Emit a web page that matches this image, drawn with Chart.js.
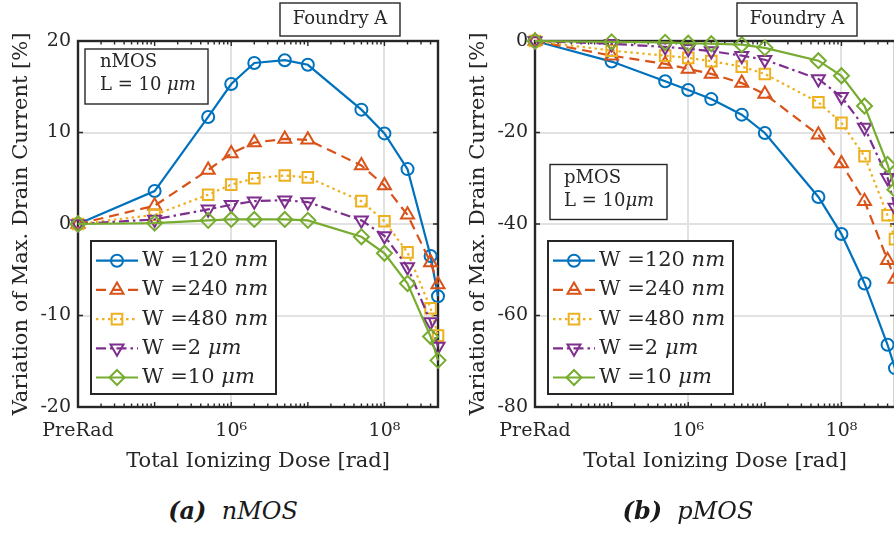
<!DOCTYPE html>
<html>
<head>
<meta charset="utf-8">
<script src="https://cdn.jsdelivr.net/npm/chart.js@4.4.0/dist/chart.umd.min.js"></script>
<style>
  html, body { margin: 0; padding: 0; background: #fff; overflow: hidden; width: 894px; height: 533px; }
  .panel { position: absolute; top: 0; width: 460px; height: 480px; }
  .caption { position: absolute; top: 496px; width: 460px; text-align: center; line-height: 28px;
             font: italic 24px 'DejaVu Serif', serif; color: #1a1a1a; }
  .caption b { font-weight: bold; }
</style>
</head>
<body>
<div class="panel" style="left:0"><canvas id="nmosChart"></canvas></div>
<div class="panel" style="left:457px"><canvas id="pmosChart"></canvas></div>
<div class="caption" style="left:3px"><b>(a)</b>&nbsp; nMOS</div>
<div class="caption" style="left:458px"><b>(b)</b>&nbsp; pMOS</div>
<script>
// Dose steps in rad; the PreRad measurement sits at 1e4
const doseRad = [1e4, 1e5, 5e5, 1e6, 2e6, 5e6, 1e7, 5e7, 1e8, 2e8, 4e8, 5e8];
const doseTicks = [1e4, 1e6, 1e8];
const doseTickLabels = ['PreRad', '10\u2076', '10\u2078'];

// Transistor widths: plain part + italic unit
const widthNames = [['W =120 ', 'nm'], ['W =240 ', 'nm'], ['W =480 ', 'nm'], ['W =2 ', '\u03bcm'], ['W =10 ', '\u03bcm']];

// nMOS, L = 10 um : variation of max. drain current [%]
const nmos120 = [0, 3.6, 11.7, 15.3, 17.6, 17.9, 17.4, 12.5, 9.9, 6.0, -3.5, -7.9];
const nmos240 = [0, 2.0, 5.9, 7.7, 8.9, 9.3, 9.2, 6.4, 4.2, 1.0, -4.2, -6.6];
const nmos480 = [0, 1.0, 3.2, 4.3, 5.0, 5.3, 5.1, 2.5, 0.3, -3.1, -9.2, -12.2];
const nmos2u  = [0, 0.5, 1.6, 2.1, 2.5, 2.6, 2.4, 0.4, -1.3, -4.7, -10.7, -13.4];
const nmos10u = [0, 0.1, 0.4, 0.5, 0.5, 0.5, 0.4, -1.4, -3.2, -6.5, -12.3, -14.9];

// pMOS, L = 10 um
const pmos120 = [0, -4.5, -8.8, -10.7, -12.7, -16.1, -20.1, -34.1, -42.2, -53.0, -66.4, -71.5];
const pmos240 = [0, -3.2, -5.0, -6.1, -7.2, -9.2, -11.6, -20.5, -26.8, -35.0, -47.9, -52.0];
const pmos480 = [0, -2.1, -3.2, -3.7, -4.4, -5.6, -7.2, -13.4, -17.9, -25.2, -38.1, -43.3];
const pmos2u  = [0, -0.6, -1.3, -1.7, -2.2, -3.2, -4.1, -8.3, -12.2, -18.9, -29.9, -36.4];
const pmos10u = [0, -0.2, -0.3, -0.5, -0.6, -0.8, -1.5, -4.3, -7.6, -14.2, -27.0, -32.5];

const ink = '#262626';
const serif = "'DejaVu Serif', serif";

// MATLAB default colour order and line/marker styles
const styles = [
  { color: '#0072BD', dash: [],              point: 'circle',   radius: 6,   rot: 0 },
  { color: '#D95319', dash: [10, 6],         point: 'triangle', radius: 7.5, rot: 0 },
  { color: '#EDB120', dash: [2.5, 3.5],      point: 'rect',     radius: 7.5, rot: 0 },
  { color: '#7E2F8E', dash: [10, 4, 2.5, 4], point: 'triangle', radius: 7.5, rot: 180 },
  { color: '#77AC30', dash: [],              point: 'rectRot',  radius: 7.5, rot: 0 },
];

function makeDatasets(seriesList) {
  return seriesList.map((values, i) => {
    const s = styles[i];
    return {
      label: widthNames[i].join(''),
      data: doseRad.map((x, j) => ({ x: x, y: values[j] })),
      showLine: true,
      borderColor: s.color,
      borderWidth: 2.2,
      borderDash: s.dash,
      pointStyle: s.point,
      pointRadius: s.radius,
      pointRotation: s.rot,
      pointBorderColor: s.color,
      pointBackgroundColor: 'rgba(0,0,0,0)',
      pointBorderWidth: 2,
      order: seriesList.length - i,   // later series on top
      clip: false
    };
  });
}

// text with mixed upright / italic runs
function richText(ctx, parts, x, y, size, align) {
  const fonts = parts.map(p => (p[1] ? 'italic ' : '') + size + 'px ' + serif);
  let total = 0;
  parts.forEach((p, k) => { ctx.font = fonts[k]; total += ctx.measureText(p[0]).width; });
  let cx = align === 'center' ? x - total / 2 : x;
  ctx.textAlign = 'left';
  ctx.textBaseline = 'middle';
  ctx.fillStyle = ink;
  parts.forEach((p, k) => {
    ctx.font = fonts[k];
    ctx.fillText(p[0], cx, y);
    cx += ctx.measureText(p[0]).width;
  });
}

function marker(ctx, s, x, y) {
  const r = s.radius;
  ctx.beginPath();
  if (s.point === 'circle') {
    ctx.arc(x, y, r, 0, Math.PI * 2);
  } else if (s.point === 'rect') {
    const h = r * Math.SQRT1_2;
    ctx.rect(x - h, y - h, 2 * h, 2 * h);
  } else if (s.point === 'rectRot') {
    ctx.moveTo(x - r, y); ctx.lineTo(x, y - r); ctx.lineTo(x + r, y); ctx.lineTo(x, y + r); ctx.closePath();
  } else {
    let a = s.rot * Math.PI / 180;
    ctx.moveTo(x + Math.sin(a) * r, y - Math.cos(a) * r);
    for (let k = 0; k < 2; k++) {
      a += Math.PI * 2 / 3;
      ctx.lineTo(x + Math.sin(a) * r, y - Math.cos(a) * r);
    }
    ctx.closePath();
  }
  ctx.stroke();
}

function textBox(ctx, b, lw) {
  ctx.fillStyle = '#fff';
  ctx.fillRect(b.x, b.y, b.w, b.h);
  ctx.strokeStyle = ink;
  ctx.lineWidth = lw;
  ctx.strokeRect(b.x, b.y, b.w, b.h);
  b.lines.forEach(l => richText(ctx, l.parts, l.x, l.y, b.size, l.align));
}

// MATLAB-like box: inward ticks, log minor ticks, legend and annotations
const matlabAxes = {
  id: 'matlabAxes',
  beforeDatasetsDraw(chart) {
    const { ctx, chartArea: a } = chart;
    const x = chart.scales.x, y = chart.scales.y;
    ctx.save();
    ctx.strokeStyle = ink;
    ctx.lineWidth = 1.4;
    ctx.beginPath();
    const lo = Math.floor(Math.log10(x.min)), hi = Math.ceil(Math.log10(x.max));
    for (let e = lo; e <= hi; e++) {
      for (let m = 1; m < 10; m++) {
        const v = m * Math.pow(10, e);
        if (v < x.min || v > x.max) continue;
        const px = x.getPixelForValue(v), len = m === 1 ? 5 : 3.5;
        ctx.moveTo(px, a.bottom); ctx.lineTo(px, a.bottom - len);
        ctx.moveTo(px, a.top); ctx.lineTo(px, a.top + len);
      }
    }
    y.ticks.forEach(t => {
      const py = y.getPixelForValue(t.value);
      ctx.moveTo(a.left, py); ctx.lineTo(a.left + 5, py);
      ctx.moveTo(a.right, py); ctx.lineTo(a.right - 5, py);
    });
    ctx.stroke();
    ctx.lineWidth = 2.4;
    ctx.strokeRect(a.left, a.top, a.width, a.height);
    ctx.restore();
  },
  afterDraw(chart, args, opts) {
    const { ctx, chartArea: a } = chart;
    ctx.save();
    // title box above the axes
    textBox(ctx, { x: 280, y: 3, w: 120, h: 33, size: 18,
      lines: [{ parts: [['Foundry A']], x: 340, y: 19.5, align: 'center' }] }, 1.4);
    textBox(ctx, opts.info, 1.4);

    // legend
    const lx = a.left + 13, ly = 241, lw = 185, lh = 153;
    ctx.fillStyle = '#fff';
    ctx.fillRect(lx, ly, lw, lh);
    ctx.strokeStyle = ink;
    ctx.lineWidth = 2;
    ctx.strokeRect(lx, ly, lw, lh);
    styles.forEach((s, i) => {
      const cy = ly + 19.7 + i * 29.2;
      ctx.strokeStyle = s.color;
      ctx.lineWidth = 2.2;
      ctx.setLineDash(s.dash);
      ctx.beginPath();
      ctx.moveTo(lx + 5, cy); ctx.lineTo(lx + 47, cy);
      ctx.stroke();
      ctx.setLineDash([]);
      ctx.lineWidth = 2;
      marker(ctx, s, lx + 26, cy);
      richText(ctx, [[widthNames[i][0]], [widthNames[i][1], true]], lx + 51, cy, 21);
    });
    ctx.restore();
  }
};

function makePanel(canvasId, seriesList, yMin, yMax, step, info) {
  return new Chart(document.getElementById(canvasId), {
    type: 'scatter',
    data: { datasets: makeDatasets(seriesList) },
    options: {
      responsive: true,
      maintainAspectRatio: false,
      animation: false,
      layout: { padding: { top: 41, right: 22, bottom: 0, left: 0 } },
      plugins: {
        legend: { display: false },
        tooltip: { enabled: false },
        matlabAxes: { info: info }
      },
      scales: {
        x: {
          type: 'logarithmic',
          min: 1e4,
          max: 5e8,
          afterBuildTicks: scale => { scale.ticks = doseTicks.map(v => ({ value: v })); },
          afterFit: scale => { scale.height = 73; },
          ticks: {
            autoSkip: false, maxRotation: 0, padding: 13,
            color: ink, font: { family: serif, size: 19 },
            callback: v => doseTickLabels[doseTicks.indexOf(v)]
          },
          grid: { color: '#e2e2e2', lineWidth: 2, drawTicks: false },
          border: { display: false },
          title: {
            display: true, text: 'Total Ionizing Dose [rad]', color: ink,
            font: { family: serif, size: 21 }, padding: { top: 0, bottom: 6 }
          }
        },
        y: {
          min: yMin,
          max: yMax,
          afterFit: scale => { scale.width = 78; },
          ticks: { stepSize: step, padding: 7, color: ink, font: { family: serif, size: 19 } },
          grid: { color: '#e2e2e2', lineWidth: 2, drawTicks: false },
          border: { display: false },
          title: {
            display: true, text: 'Variation of Max. Drain Current [%]', color: ink,
            font: { family: serif, size: 21 }, padding: { top: 9, bottom: 0 }
          }
        }
      }
    },
    plugins: [matlabAxes]
  });
}

makePanel('nmosChart', [nmos120, nmos240, nmos480, nmos2u, nmos10u], -20, 20, 10, {
  x: 85, y: 49, w: 123, h: 55, size: 18,
  lines: [
    { parts: [['nMOS']], x: 100, y: 62 },
    { parts: [['L = 10 '], ['\u03bcm', true]], x: 100, y: 85 }
  ]
});

makePanel('pmosChart', [pmos120, pmos240, pmos480, pmos2u, pmos10u], -80, 0, 20, {
  x: 93, y: 164.5, w: 117, h: 55, size: 18,
  lines: [
    { parts: [['pMOS']], x: 107, y: 178 },
    { parts: [['L = 10'], ['\u03bcm', true]], x: 107, y: 201.5 }
  ]
});
</script>
</body>
</html>
